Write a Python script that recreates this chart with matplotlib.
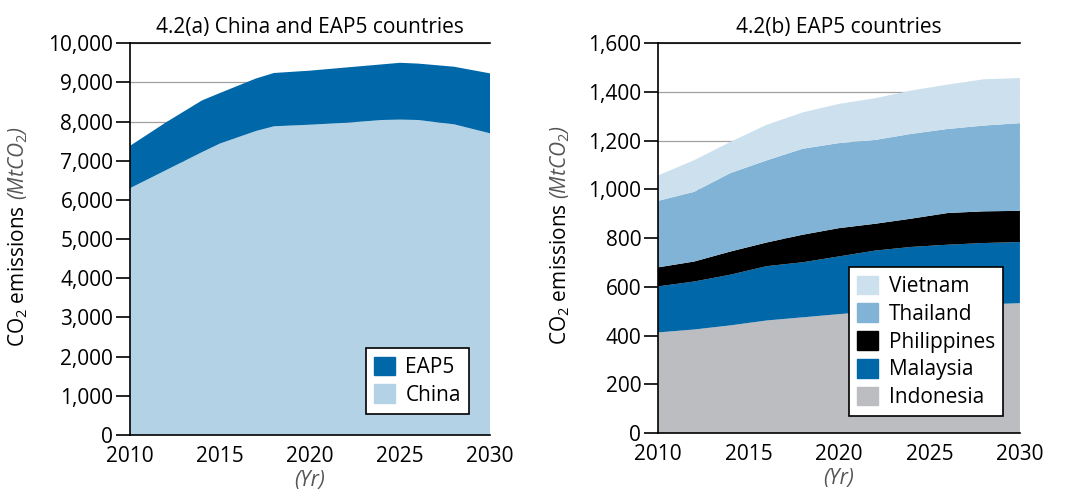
import numpy as np
import matplotlib.pyplot as plt
from matplotlib.patches import Patch

plt.rcParams['font.family'] = ['Open Sans', 'DejaVu Sans']
plt.rcParams['mathtext.fontset'] = 'custom'
plt.rcParams['mathtext.rm'] = 'Open Sans'
plt.rcParams['mathtext.it'] = 'Open Sans:italic'

# panel (a): China and EAP5 (MtCO2)
years_a = [2010, 2012, 2014, 2015, 2017, 2018, 2020, 2022, 2024, 2025, 2026, 2028, 2030]
china = [6300, 6760, 7220, 7440, 7760, 7880, 7920, 7970, 8040, 8050, 8040, 7930, 7700]
eap5 = [1080, 1220, 1320, 1290, 1340, 1360, 1380, 1410, 1420, 1450, 1440, 1470, 1530]

# panel (b): EAP5 countries (MtCO2)
years_b = [2010, 2012, 2014, 2016, 2018, 2020, 2022, 2024, 2026, 2028, 2030]
indonesia = [413, 425, 442, 462, 475, 488, 500, 510, 520, 528, 533]
malaysia = [189, 197, 208, 223, 226, 237, 249, 254, 253, 252, 251]
philippines = [78, 82, 95, 97, 113, 116, 110, 116, 130, 130, 128]
thailand = [273, 286, 322, 337, 353, 349, 344, 348, 345, 352, 360]
vietnam = [104, 130, 128, 146, 149, 161, 171, 178, 182, 190, 185]

c_dark = '#0068a9'
c_china = '#b3d2e5'
c_viet = '#cce1ed'
c_thai = '#80b3d5'
c_indo = '#bcbdc0'
grey_txt = '#555555'
fs = 15


def style_axes(ax, ymax, ystep, fmt):
    ax.set_xlim(2010, 2030)
    ax.set_ylim(0, ymax)
    ax.set_xticks([2010, 2015, 2020, 2025, 2030])
    ax.set_yticks(np.arange(0, ymax + 1, ystep))
    ax.set_yticklabels([fmt.format(v) for v in np.arange(0, ymax + 1, ystep)])
    ax.tick_params(axis='x', length=0, pad=8, labelsize=fs)
    ax.tick_params(axis='y', length=10, width=1.2, pad=2, labelsize=fs, direction='out')
    ax.spines['right'].set_visible(False)
    for s in ['left', 'bottom', 'top']:
        ax.spines[s].set_linewidth(1.2)
    ax.grid(axis='y', color='#a0a0a0', linewidth=0.9)
    ax.set_axisbelow(True)


def add_legend(ax, handles, labels, pad):
    leg = ax.legend(handles, labels, loc='lower right', fontsize=fs, frameon=True,
                    fancybox=False, edgecolor='black', framealpha=1,
                    handlelength=1.0, handleheight=1.0, labelspacing=0.3,
                    handletextpad=0.5, borderpad=0.4, borderaxespad=pad)
    leg.get_frame().set_linewidth(1.2)


fig = plt.figure(figsize=(10.69, 4.91), dpi=100)
ax1 = fig.add_axes([0.1216, 0.114, 0.3368, 0.798])
ax2 = fig.add_axes([0.6155, 0.118, 0.3386, 0.794])

# panel a
ax1.stackplot(years_a, china, eap5, colors=[c_china, c_dark], linewidth=0, zorder=2)
style_axes(ax1, 10000, 1000, '{:,.0f}')
ax1.set_title('4.2(a) China and EAP5 countries', fontsize=fs, pad=7)
add_legend(ax1, [Patch(color=c_dark), Patch(color=c_china)], ['EAP5', 'China'], 1.0)

# panel b
ax2.stackplot(years_b, indonesia, malaysia, philippines, thailand, vietnam,
              colors=[c_indo, c_dark, 'black', c_thai, c_viet], linewidth=0, zorder=2)
style_axes(ax2, 1600, 200, '{:,.0f}')
ax2.set_title('4.2(b) EAP5 countries', fontsize=fs, pad=7)
add_legend(ax2, [Patch(color=c_viet), Patch(color=c_thai), Patch(color='black'),
                 Patch(color=c_dark), Patch(color=c_indo)],
           ['Vietnam', 'Thailand', 'Philippines', 'Malaysia', 'Indonesia'], 0.8)

# axis labels: plain part black, units italic grey
for ax, xoff in [(ax1, -0.31), (ax2, -0.27)]:
    ax.text(xoff, 0.225, 'CO$_2$ emissions', transform=ax.transAxes, rotation=90,
            ha='center', va='bottom', fontsize=fs)
    ax.text(xoff, 0.60, '(MtCO$_2$)', transform=ax.transAxes, rotation=90,
            ha='center', va='bottom', fontsize=fs, style='italic', color=grey_txt)
    ax.text(0.5, -0.09, '(Yr)', transform=ax.transAxes, ha='center', va='top',
            fontsize=fs, style='italic', color=grey_txt)

fig.savefig('out.png', dpi=100)
